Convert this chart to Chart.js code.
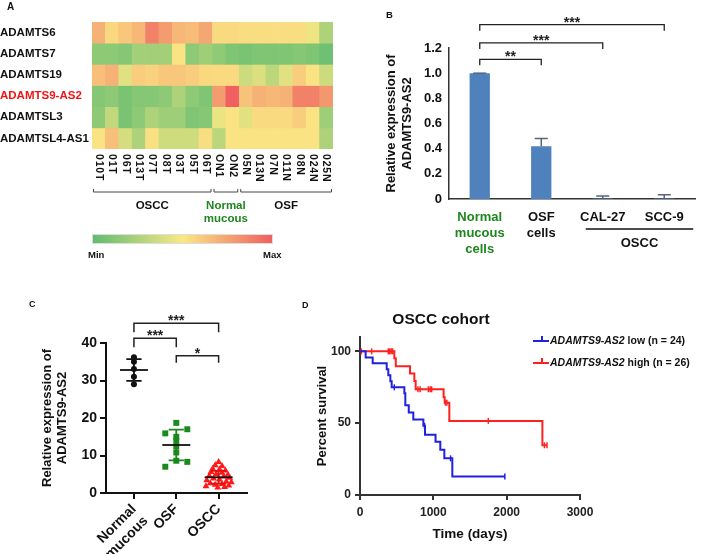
<!DOCTYPE html>
<html>
<head>
<meta charset="utf-8">
<script src="https://cdn.jsdelivr.net/npm/chart.js@4.4.0/dist/chart.umd.min.js"></script>
<style>
  body { margin: 0; width: 709px; height: 554px; background: #fff; position: relative; overflow: hidden;
         font-family: "Liberation Sans", Arial, Helvetica, sans-serif; color: #111; }
  canvas { position: absolute; }
  .lbl { position: absolute; font-weight: bold; white-space: nowrap; }
  .leg { position: absolute; font-weight: bold; font-size: 10.5px; line-height: 14px; white-space: nowrap; }
  .sw { display: inline-block; width: 16px; height: 2px; vertical-align: middle; position: relative; margin-right: 1px; }
  .sw::after { content: ''; position: absolute; left: 8px; top: -4px; width: 1.5px; height: 5px; background: inherit; }
</style>
</head>
<body>
<canvas id="heat" width="360" height="265" style="left:0;top:0"></canvas>
<canvas id="bars" width="339" height="300" style="left:370px;top:0"></canvas>
<canvas id="dots" width="300" height="254" style="left:0;top:300px"></canvas>
<canvas id="surv" width="409" height="254" style="left:300px;top:300px"></canvas>

<div class="lbl" style="left:7px;top:1px;font-size:10px">A</div>
<div class="lbl" style="left:386px;top:9px;font-size:9.5px">B</div>
<div class="lbl" style="left:29px;top:299px;font-size:9px">C</div>
<div class="lbl" style="left:302px;top:300px;font-size:9px">D</div>

<div style="position:absolute;left:92px;top:234px;width:181px;height:10px;border:0.5px solid #ddd;box-sizing:border-box;
  background:linear-gradient(to right, rgb(96,188,112), rgb(250,232,132), rgb(240,96,96))"></div>
<div class="lbl" style="left:88px;top:249px;font-size:9.5px">Min</div>
<div class="lbl" style="left:263px;top:249px;font-size:9.5px">Max</div>

<div class="lbl" style="left:381px;top:310px;width:120px;text-align:center;font-size:15.5px;line-height:18px">OSCC cohort</div>
<div class="leg" style="left:533px;top:333px"><span class="sw" style="background:#2020e0"></span><i>ADAMTS9-AS2</i> low (n = 24)</div>
<div class="leg" style="left:533px;top:355px"><span class="sw" style="background:#ff2020"></span><i>ADAMTS9-AS2</i> high (n = 26)</div>

<script>
// ---- A: heatmap (scaled expression, 0 = min, 1 = max)
const genes = ['ADAMTS6', 'ADAMTS7', 'ADAMTS19', 'ADAMTS9-AS2', 'ADAMTSL3', 'ADAMTSL4-AS1'];
const highlightGene = 'ADAMTS9-AS2';
const samples = ['010T', '01T', '06T', '013T', '07T', '08T', '03T', '05T', '06T',
                 'ON1', 'ON2', '05N', '013N', '07N', '011N', '08N', '024N', '025N'];
const heatADAMTS6 = [0.70, 0.56, 0.62, 0.68, 0.88, 0.78, 0.68, 0.66, 0.74, 0.55, 0.55, 0.54, 0.54, 0.54, 0.54, 0.54, 0.46, 0.25];
const heatADAMTS7 = [0.15, 0.15, 0.12, 0.22, 0.22, 0.22, 0.52, 0.15, 0.20, 0.16, 0.10, 0.08, 0.10, 0.10, 0.10, 0.12, 0.10, 0.05];
const heatADAMTS19 = [0.65, 0.70, 0.42, 0.60, 0.58, 0.62, 0.62, 0.60, 0.56, 0.55, 0.55, 0.35, 0.40, 0.30, 0.42, 0.60, 0.52, 0.35];
const heatADAMTS9AS2 = [0.12, 0.15, 0.08, 0.12, 0.12, 0.15, 0.25, 0.15, 0.10, 0.78, 1.00, 0.64, 0.70, 0.68, 0.70, 0.88, 0.88, 0.80];
const heatADAMTSL3 = [0.15, 0.32, 0.08, 0.15, 0.25, 0.20, 0.20, 0.10, 0.12, 0.45, 0.52, 0.42, 0.55, 0.55, 0.55, 0.60, 0.52, 0.20];
const heatADAMTSL4AS1 = [0.52, 0.65, 0.38, 0.25, 0.53, 0.36, 0.36, 0.36, 0.54, 0.30, 0.52, 0.52, 0.52, 0.52, 0.52, 0.52, 0.52, 0.25];
const heatRows = [heatADAMTS6, heatADAMTS7, heatADAMTS19, heatADAMTS9AS2, heatADAMTSL3, heatADAMTSL4AS1];
const groupNames = [['OSCC'], ['Normal', 'mucous'], ['OSF']];
const groupFirst = [0, 9, 11];
const groupLast = [8, 10, 17];

// ---- B: cell lines
const cellLines = [['Normal', 'mucous', 'cells'], ['OSF', 'cells'], 'CAL-27', 'SCC-9'];
const relExpr = [1.0, 0.42, 0.004, 0.004];
const relErr = [0, 0.06, 0.02, 0.03];
const yTicksB = [0, 0.2, 0.4, 0.6, 0.8, 1.0, 1.2];
const sigB = [[0, 1, '**'], [0, 2, '***'], [0, 3, '***']];

// ---- C: tissues
const tissues = [['Normal', 'mucous'], 'OSF', 'OSCC'];
const normalX = [1, 1, 1, 1, 1];
const normalY = [36.2, 35.0, 33.1, 31.0, 29.0];
const osfX = [2, 2.26, 1.74, 2, 2, 2, 2, 2, 2.26, 1.74];
const osfY = [18.7, 17.0, 15.9, 15.0, 13.9, 12.4, 10.8, 8.6, 8.3, 7.0];
const osccX = [3.00, 2.92, 3.08, 2.86, 3.02, 3.16, 2.82, 3.08, 2.94, 3.22, 2.78, 3.12, 3.26,
               2.88, 3.02, 2.72, 3.18, 3.30, 2.80, 3.08, 2.92, 3.24, 2.70, 3.14, 2.98];
const osccY = [8.3, 7.4, 7.2, 6.5, 6.3, 6.0, 5.6, 5.4, 5.1, 4.9, 4.6, 4.4, 4.1,
               3.9, 3.6, 3.4, 3.1, 2.9, 2.6, 2.4, 2.2, 2.0, 1.8, 1.6, 1.5];
const meanC = [32.8, 12.8, 4.2];
const sdC = [2.9, 4.1, 1.7];
const sigC = [[1, 2, '***'], [1, 3, '***'], [2, 3, '*']];

// ---- D: Kaplan-Meier, time in days, survival in %
const lowT = [0, 77, 173, 364, 386, 414, 432, 605, 618, 665, 727, 864, 886, 1030, 1095, 1150, 1259, 1975];
const lowS = [100, 95.8, 91.7, 87.5, 83.3, 79.2, 75.0, 70.8, 62.5, 57.5, 52.5, 48.2, 42.0, 37.0, 31.5, 25.5, 12.8, 12.8];
const lowCensT = [468, 880, 1235, 1975];
const lowCensS = [75.0, 48.2, 25.5, 12.8];
const highT = [0, 468, 488, 682, 741, 759, 1140, 1155, 1218, 2487, 2550];
const highS = [100, 95.2, 89.7, 84.6, 79.4, 73.6, 68.0, 64.3, 51.6, 34.6, 34.6];
const highCensT = [18, 159, 386, 405, 425, 445, 790, 820, 932, 957, 977, 1165, 1185, 1750, 2515, 2550];
const highCensS = [100, 100, 100, 100, 100, 100, 73.6, 73.6, 73.6, 73.6, 73.6, 64.3, 64.3, 51.6, 34.6, 34.6];
const xTicksD = [0, 1000, 2000, 3000];
const yTicksD = [0, 50, 100];

const green = '#1e861e';

Chart.defaults.font.family = '"Liberation Sans", Arial, Helvetica, sans-serif';
Chart.defaults.color = '#111';
Chart.defaults.animation = false;
Chart.defaults.responsive = false;
Chart.defaults.plugins.legend.display = false;
Chart.defaults.plugins.tooltip.enabled = false;

function heatColor(v) {
  const lo = [96, 188, 112], mid = [250, 232, 132], hi = [240, 96, 96];
  const a = v < 0.5 ? lo : mid, b = v < 0.5 ? mid : hi;
  const t = v < 0.5 ? v * 2 : (v - 0.5) * 2;
  return 'rgb(' + a.map((c, i) => Math.round(c + (b[i] - c) * t)).join(',') + ')';
}

function bracket(ctx, xa, xb, ly, leg, text) {
  ctx.beginPath();
  ctx.moveTo(xa, ly + leg); ctx.lineTo(xa, ly); ctx.lineTo(xb, ly); ctx.lineTo(xb, ly + leg);
  ctx.stroke();
  ctx.fillText(text, (xa + xb) / 2, ly + 2);
}

// sample names, brackets and group names under the heatmap
const heatLabels = {
  id: 'heatLabels',
  afterDraw(chart) {
    const { ctx, chartArea, scales: { x } } = chart;
    ctx.save();
    ctx.fillStyle = '#111';
    ctx.font = 'bold 10.5px "Liberation Sans", Arial';
    ctx.letterSpacing = '0.8px';
    ctx.textAlign = 'left';
    ctx.textBaseline = 'middle';
    samples.forEach((s, i) => {
      ctx.save();
      ctx.translate(x.getPixelForValue(i), chartArea.bottom + 5);
      ctx.rotate(Math.PI / 2);
      ctx.fillText(s, 0, 0);
      ctx.restore();
    });
    ctx.letterSpacing = '0px';
    const half = (x.getPixelForValue(1) - x.getPixelForValue(0)) / 2;
    const by = chartArea.bottom + 43;
    ctx.strokeStyle = '#444';
    ctx.lineWidth = 1;
    ctx.textAlign = 'center';
    ctx.font = 'bold 11.5px "Liberation Sans", Arial';
    groupNames.forEach((g, k) => {
      const x0 = x.getPixelForValue(groupFirst[k]) - half + 1.5;
      const x1 = x.getPixelForValue(groupLast[k]) + half - 1.5;
      ctx.beginPath();
      ctx.moveTo(x0, by - 3); ctx.lineTo(x0, by); ctx.lineTo(x1, by); ctx.lineTo(x1, by - 3);
      ctx.stroke();
      ctx.fillStyle = k === 1 ? green : '#111';
      g.forEach((t, j) => ctx.fillText(t, (x0 + x1) / 2, by + 13.5 + j * 13.5));
    });
    ctx.restore();
  }
};

new Chart(document.getElementById('heat'), {
  type: 'bar',
  data: {
    labels: samples,
    datasets: heatRows.map((row, r) => ({
      label: genes[r],
      data: row.map(() => 1),
      backgroundColor: row.map(heatColor),
      borderWidth: 0,
      categoryPercentage: 1,
      barPercentage: 1
    }))
  },
  options: {
    layout: { padding: { top: 22, right: 27, bottom: 116, left: 0 } },
    scales: {
      x: { display: false, stacked: true },
      y: { display: false, stacked: true, reverse: true, min: 0, max: 6 },
      genes: {
        type: 'category', labels: genes, offset: true, position: 'left',
        grid: { display: false, drawTicks: false }, border: { display: false },
        ticks: {
          crossAlign: 'far', padding: 0,
          color: c => genes[c.index] === highlightGene ? '#f01414' : '#111',
          font: { size: 11.5, weight: 'bold' }
        },
        afterFit: s => { s.width = 92; }
      }
    }
  },
  plugins: [heatLabels]
});

// error bars, significance brackets, OSCC underline
const barExtras = {
  id: 'barExtras',
  afterDatasetsDraw(chart) {
    const { ctx, scales: { x, y } } = chart;
    ctx.save();
    ctx.strokeStyle = '#55647c';
    ctx.lineWidth = 1.5;
    relExpr.forEach((v, i) => {
      const px = x.getPixelForValue(i), top = y.getPixelForValue(v + relErr[i]);
      ctx.beginPath();
      ctx.moveTo(px, y.getPixelForValue(v)); ctx.lineTo(px, top);
      ctx.moveTo(px - 6.5, top); ctx.lineTo(px + 6.5, top);
      ctx.stroke();
    });
    const levels = [1.11, 1.24, 1.385];
    ctx.strokeStyle = '#222';
    ctx.lineWidth = 1.3;
    ctx.fillStyle = '#222';
    ctx.font = 'bold 14px "Liberation Sans", Arial';
    ctx.textAlign = 'center';
    ctx.textBaseline = 'alphabetic';
    sigB.forEach(([a, b, stars], k) => {
      bracket(ctx, x.getPixelForValue(a), x.getPixelForValue(b), y.getPixelForValue(levels[k]), 6, stars);
    });
    const ux0 = x.getPixelForValue(2) - 17, ux1 = x.getPixelForValue(3) + 29;
    ctx.strokeStyle = '#111';
    ctx.lineWidth = 1.5;
    ctx.beginPath(); ctx.moveTo(ux0, 229); ctx.lineTo(ux1, 229); ctx.stroke();
    ctx.fillStyle = '#111';
    ctx.font = 'bold 13px "Liberation Sans", Arial';
    ctx.textBaseline = 'middle';
    ctx.fillText('OSCC', (ux0 + ux1) / 2, 243);
    ctx.restore();
  }
};

new Chart(document.getElementById('bars'), {
  type: 'bar',
  data: {
    labels: cellLines,
    datasets: [{ data: relExpr, backgroundColor: '#4f81bd', borderWidth: 0, categoryPercentage: 1, barPercentage: 0.33 }]
  },
  options: {
    layout: { padding: { top: 48, right: 14, bottom: 0, left: 0 } },
    scales: {
      x: {
        grid: { display: false, drawTicks: false },
        border: { display: true, color: '#333', width: 1.5 },
        ticks: {
          padding: 11, maxRotation: 0, autoSkip: false,
          color: c => c.index === 0 ? green : '#111',
          font: { size: 13, weight: 'bold' }
        },
        afterFit: s => { s.height = 101; }
      },
      y: {
        min: 0, max: 1.2,
        grid: { display: false, drawTicks: false },
        border: { display: true, color: '#333', width: 1.5 },
        afterBuildTicks: s => { s.ticks = yTicksB.map(v => ({ value: v })); },
        ticks: { padding: 7, callback: v => v === 0 ? '0' : v.toFixed(1), font: { size: 13, weight: 'bold' } },
        title: {
          display: true, text: ['Relative expression of', 'ADAMTS9-AS2'], color: '#111',
          font: { size: 13, weight: 'bold', lineHeight: 1.2 }, padding: { top: 14, bottom: 0 }
        },
        afterFit: s => { s.width = 79; }
      }
    }
  },
  plugins: [barExtras]
});

// mean +/- SD lines and significance brackets
const dotExtras = {
  id: 'dotExtras',
  afterDatasetsDraw(chart) {
    const { ctx, scales: { x, y } } = chart;
    const sdColors = ['#111', green, '#e01010'];
    ctx.save();
    meanC.forEach((m, g) => {
      const gx = g + 1;
      ctx.lineWidth = 1.8;
      ctx.strokeStyle = sdColors[g];
      ctx.beginPath();
      ctx.moveTo(x.getPixelForValue(gx), y.getPixelForValue(m - sdC[g]));
      ctx.lineTo(x.getPixelForValue(gx), y.getPixelForValue(m + sdC[g]));
      [m - sdC[g], m + sdC[g]].forEach(v => {
        ctx.moveTo(x.getPixelForValue(gx - 0.18), y.getPixelForValue(v));
        ctx.lineTo(x.getPixelForValue(gx + 0.18), y.getPixelForValue(v));
      });
      ctx.stroke();
      ctx.strokeStyle = '#111';
      ctx.beginPath();
      ctx.moveTo(x.getPixelForValue(gx - 0.33), y.getPixelForValue(m));
      ctx.lineTo(x.getPixelForValue(gx + 0.33), y.getPixelForValue(m));
      ctx.stroke();
    });
    const levels = [41.3, 45.3, 36.6];
    const legs = [9, 9, 7];
    ctx.strokeStyle = '#222';
    ctx.lineWidth = 1.5;
    ctx.fillStyle = '#222';
    ctx.font = 'bold 14px "Liberation Sans", Arial';
    ctx.textAlign = 'center';
    ctx.textBaseline = 'alphabetic';
    sigC.forEach(([a, b, stars], k) => {
      bracket(ctx, x.getPixelForValue(a), x.getPixelForValue(b), y.getPixelForValue(levels[k]), legs[k], stars);
    });
    ctx.restore();
  }
};

const axisGrid = { display: true, drawOnChartArea: false, color: '#111', lineWidth: 2, tickLength: 6 };

new Chart(document.getElementById('dots'), {
  type: 'scatter',
  data: {
    datasets: [
      { data: normalX.map((v, i) => ({ x: v, y: normalY[i] })), pointStyle: 'circle', pointRadius: 3,
        backgroundColor: '#111', borderColor: '#111', borderWidth: 0 },
      { data: osfX.map((v, i) => ({ x: v, y: osfY[i] })), pointStyle: 'rect', pointRadius: 4.2,
        backgroundColor: '#1a8a1a', borderColor: '#1a8a1a', borderWidth: 0 },
      { data: osccX.map((v, i) => ({ x: v, y: osccY[i] })), pointStyle: 'triangle', pointRadius: 4,
        backgroundColor: '#ff1a1a', borderColor: '#ff1a1a', borderWidth: 0 }
    ]
  },
  options: {
    layout: { padding: { top: 43, right: 53, bottom: 0, left: 0 } },
    scales: {
      x: {
        type: 'linear', min: 0.34, max: 3.67,
        grid: axisGrid,
        border: { display: true, color: '#111', width: 2 },
        afterBuildTicks: s => { s.ticks = tissues.map((t, i) => ({ value: i + 1 })); },
        ticks: { minRotation: 45, maxRotation: 45, padding: 2, autoSkip: false,
                 callback: (v, i) => tissues[i], font: { size: 14, weight: 'bold' } },
        afterFit: s => { s.height = 61; }
      },
      y: {
        min: 0, max: 40,
        grid: axisGrid,
        border: { display: true, color: '#111', width: 2 },
        ticks: { stepSize: 10, padding: 3, font: { size: 14, weight: 'bold' } },
        title: {
          display: true, text: ['Relative expression of', 'ADAMTS9-AS2'], color: '#111',
          font: { size: 13, weight: 'bold', lineHeight: 1.15 }, padding: { top: 39.5, bottom: 0 }
        },
        afterFit: s => { s.width = 106; }
      }
    }
  },
  plugins: [dotExtras]
});

const tick = { display: true, drawOnChartArea: false, color: '#333', lineWidth: 2, tickLength: 5 };

new Chart(document.getElementById('surv'), {
  type: 'line',
  data: {
    datasets: [
      { data: lowT.map((t, i) => ({ x: t, y: lowS[i] })), stepped: true, borderColor: '#2020e0',
        borderWidth: 2, pointRadius: 0, fill: false },
      { data: highT.map((t, i) => ({ x: t, y: highS[i] })), stepped: true, borderColor: '#ff2020',
        borderWidth: 2, pointRadius: 0, fill: false },
      { type: 'scatter', data: lowCensT.map((t, i) => ({ x: t, y: lowCensS[i] })), pointStyle: 'line',
        rotation: 90, pointRadius: 3, borderColor: '#2020e0', borderWidth: 1.5 },
      { type: 'scatter', data: highCensT.map((t, i) => ({ x: t, y: highCensS[i] })), pointStyle: 'line',
        rotation: 90, pointRadius: 3, borderColor: '#ff2020', borderWidth: 1.5 }
    ]
  },
  options: {
    layout: { padding: { top: 37, right: 129, bottom: 0, left: 0 } },
    scales: {
      x: {
        type: 'linear', min: 0, max: 3000,
        grid: tick,
        border: { display: true, color: '#333', width: 2 },
        afterBuildTicks: s => { s.ticks = xTicksD.map(v => ({ value: v })); },
        ticks: { padding: 5, callback: v => String(v), font: { size: 12, weight: 'bold' }, color: '#222' },
        title: { display: true, text: 'Time (days)', color: '#111',
                 font: { size: 13.5, weight: 'bold', lineHeight: 1.2 }, padding: { top: 0, bottom: 12 } },
        afterFit: s => { s.height = 59; }
      },
      y: {
        min: 0, max: 110,
        grid: tick,
        border: { display: true, color: '#333', width: 2 },
        afterBuildTicks: s => { s.ticks = yTicksD.map(v => ({ value: v })); },
        ticks: { padding: 4, font: { size: 12, weight: 'bold' }, color: '#222' },
        title: { display: true, text: 'Percent survival', color: '#111',
                 font: { size: 13, weight: 'bold', lineHeight: 1.2 }, padding: { top: 15, bottom: 0 } },
        afterFit: s => { s.width = 60; }
      }
    }
  }
});
</script>
</body>
</html>
